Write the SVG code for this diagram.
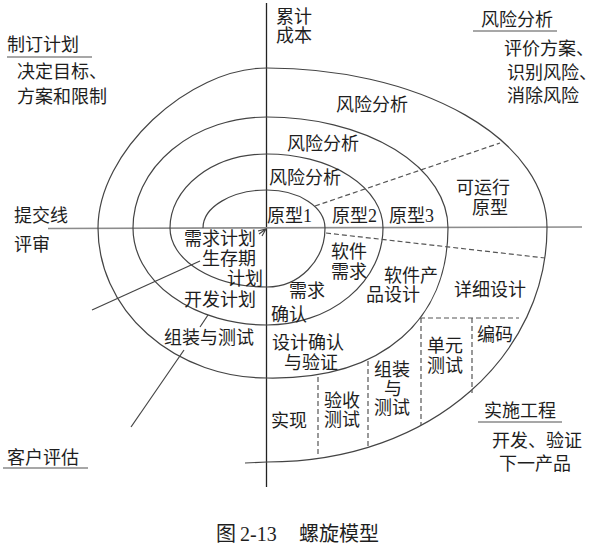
<svg xmlns="http://www.w3.org/2000/svg" width="599" height="551" viewBox="0 0 599 551">
<style>
.t{font-family:"Liberation Serif","Noto Sans CJK SC",serif;font-size:18px;fill:#1e1e1e}
.ring{fill:none;stroke:#444;stroke-width:1.2}
.axis-v{stroke:#222;stroke-width:1.3}
.axis-h{stroke:#8c8c8c;stroke-width:1.6}
.dash{fill:none;stroke:#555;stroke-width:1.2;stroke-dasharray:5 3}
.solid{fill:none;stroke:#444;stroke-width:1.2}
.ul{stroke:#8a8a8a;stroke-width:1.6}
</style>
<rect width="599" height="551" fill="#fff"/>
<g id="connectors">
<line class="axis-v" x1="266.5" y1="3" x2="266.5" y2="487"/>
<line class="axis-h" x1="48" y1="228.5" x2="582" y2="227"/>
<path id="spiral" class="ring" d="M203,228 A64,38 0 0 1 267,190 A58,38 0 0 1 325,228 A58,59 0 0 1 267,287 A97,59 0 0 1 170,228 A97,74 0 0 1 267,154 A116,74 0 0 1 383,228 A116,97 0 0 1 267,325 A134,97 0 0 1 133,228 A134,111 0 0 1 267,117 A181,111 0 0 1 448,228 C448,318 385,380 267,378 A169,150 0 0 1 98,228 C98,152.8 187.6,68 267,68 A280,160 0 0 1 547,228 C547,352 435,462 267,462 L245,463"/>
<line class="dash" x1="315" y1="206" x2="500" y2="143"/>
<line class="dash" x1="326" y1="233" x2="545" y2="258"/>
<line class="dash" x1="420" y1="318" x2="519" y2="318"/>
<line class="dash" x1="421" y1="318" x2="421" y2="425"/>
<line class="dash" x1="472" y1="318" x2="472" y2="393"/>
<line class="dash" x1="368" y1="361" x2="368" y2="446"/>
<line class="dash" x1="318" y1="377" x2="318" y2="457"/>
<line class="solid" x1="92" y1="310" x2="200" y2="261"/>
<path class="solid" d="M258,231 L266,229 L262,236 M266,229 L259,234"/>
<line class="solid" x1="208" y1="315" x2="200" y2="327"/>
<line class="solid" x1="184" y1="350" x2="131" y2="427"/>
<line class="ul" x1="7" y1="57" x2="92" y2="57"/>
<line class="ul" x1="473" y1="31" x2="557" y2="31"/>
<line class="ul" x1="478" y1="422" x2="562" y2="422"/>
<line class="ul" x1="3" y1="468" x2="88" y2="468"/>
</g>
<g id="axis-label-cost">
<text class="t" x="276" y="23">累计</text>
<text class="t" x="276" y="42">成本</text>
</g>
<g id="quadrant-plan">
<text class="t" x="7" y="51">制订计划</text>
<text class="t" x="17" y="78">决定目标、</text>
<text class="t" x="17" y="103">方案和限制</text>
</g>
<g id="quadrant-risk">
<text class="t" x="481" y="26">风险分析</text>
<text class="t" x="504" y="55">评价方案、</text>
<text class="t" x="507" y="79">识别风险、</text>
<text class="t" x="507" y="102">消除风险</text>
</g>
<g id="quadrant-engineering">
<text class="t" x="484" y="417">实施工程</text>
<text class="t" x="492" y="447">开发、验证</text>
<text class="t" x="499" y="470">下一产品</text>
</g>
<g id="quadrant-evaluation">
<text class="t" x="7" y="464">客户评估</text>
</g>
<g id="axis-labels-left">
<text class="t" x="14" y="222">提交线</text>
<text class="t" x="14" y="251">评审</text>
</g>
<g id="risk-analysis">
<text class="t" x="336" y="111">风险分析</text>
<text class="t" x="287" y="150">风险分析</text>
<text class="t" x="269" y="184">风险分析</text>
</g>
<g id="prototypes">
<text class="t" x="267" y="222">原型1</text>
<text class="t" x="332" y="222">原型2</text>
<text class="t" x="389" y="222">原型3</text>
<text class="t" x="456" y="194">可运行</text>
<text class="t" x="472" y="214">原型</text>
</g>
<g id="plans">
<text class="t" x="184" y="245">需求计划</text>
<text class="t" x="202" y="265">生存期</text>
<text class="t" x="227" y="284.5">计划</text>
<text class="t" x="184" y="306">开发计划</text>
<text class="t" x="164" y="344">组装与测试</text>
</g>
<g id="engineering-steps">
<text class="t" x="331" y="258">软件</text>
<text class="t" x="331" y="277.5">需求</text>
<text class="t" x="289" y="297">需求</text>
<text class="t" x="271" y="321">确认</text>
<text class="t" x="384" y="282">软件产</text>
<text class="t" x="366" y="301">品设计</text>
<text class="t" x="454" y="296">详细设计</text>
<text class="t" x="272" y="349">设计确认</text>
<text class="t" x="284" y="369">与验证</text>
<text class="t" x="477" y="341">编码</text>
<text class="t" x="427" y="352">单元</text>
<text class="t" x="427" y="372">测试</text>
<text class="t" x="374" y="376">组装</text>
<text class="t" x="384" y="395">与</text>
<text class="t" x="374" y="414">测试</text>
<text class="t" x="324" y="407">验收</text>
<text class="t" x="324" y="426">测试</text>
<text class="t" x="271" y="427">实现</text>
</g>
<g id="caption">
<text class="t" style="font-size:20px" y="541"><tspan x="216">图</tspan><tspan x="240">2-13</tspan><tspan x="299">螺旋模型</tspan></text>
</g>
</svg>
